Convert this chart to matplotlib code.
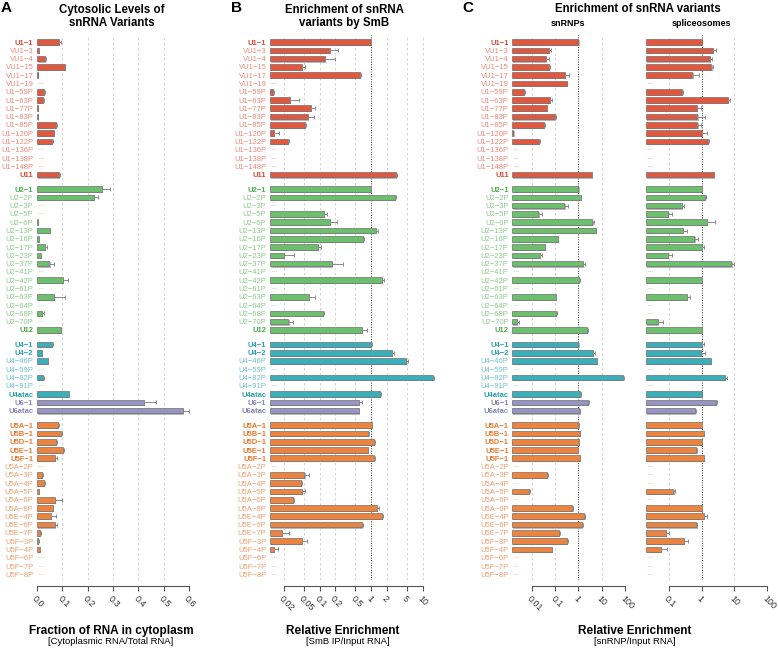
import numpy as np
import matplotlib
matplotlib.use('Agg')
import matplotlib.pyplot as plt
import matplotlib.patheffects as pe

plt.rcParams['font.family'] = ['Liberation Sans', 'DejaVu Sans']

# row labels, one list per snRNA group
names_u1 = ['U1-1', 'VU1-3', 'VU1-4', 'VU1-15', 'VU1-17', 'VU1-19', 'U1-59P', 'U1-63P', 'U1-77P',
            'U1-83P', 'U1-85P', 'U1-120P', 'U1-122P', 'U1-136P', 'U1-138P', 'U1-148P', 'U11']
names_u2 = ['U2-1', 'U2-2P', 'U2-3P', 'U2-5P', 'U2-6P', 'U2-13P', 'U2-16P', 'U2-17P', 'U2-23P',
            'U2-37P', 'U2-41P', 'U2-42P', 'U2-61P', 'U2-63P', 'U2-64P', 'U2-68P', 'U2-70P', 'U12']
names_u4 = ['U4-1', 'U4-2', 'U4-46P', 'U4-59P', 'U4-82P', 'U4-91P', 'U4atac', 'U6-1', 'U6atac']
names_u5 = ['U5A-1', 'U5B-1', 'U5D-1', 'U5E-1', 'U5F-1', 'U5A-2P', 'U5A-3P', 'U5A-4P', 'U5A-5P',
            'U5A-6P', 'U5A-8P', 'U5E-4P', 'U5E-6P', 'U5E-7P', 'U5F-3P', 'U5F-4P', 'U5F-6P',
            'U5F-7P', 'U5F-8P']
main_names = ['U1-1', 'U11', 'U2-1', 'U12', 'U4-1', 'U4-2', 'U4atac', 'U6-1', 'U6atac',
              'U5A-1', 'U5B-1', 'U5D-1', 'U5E-1', 'U5F-1']

# A: fraction in cytoplasm (mean, sd); None = not detected
cyto_u1 = [0.088, 0.007, 0.032, 0.109, 0.003, None, 0.029, 0.025, 0.002, 0.004, 0.074, 0.066, 0.060, None, None, None, 0.088]
cyto_u1_sd = [0.005, 0.001, 0.002, 0.003, 0, 0, 0.004, 0.002, 0, 0, 0.005, 0.003, 0.002, 0, 0, 0, 0.003]
cyto_u2 = [0.258, 0.224, None, None, 0.003, 0.050, 0.007, 0.033, 0.014, 0.049, None, 0.103, None, 0.068, None, 0.021, None, 0.093]
cyto_u2_sd = [0.030, 0.018, 0, 0, 0, 0.002, 0.001, 0.006, 0.002, 0.018, 0, 0.020, 0, 0.041, 0, 0.006, 0, 0.003]
cyto_u4 = [0.058, 0.018, 0.042, None, 0.025, None, 0.125, 0.422, 0.577]
cyto_u4_sd = [0.005, 0.002, 0.002, 0, 0.001, 0, 0.002, 0.048, 0.022]
cyto_u5 = [0.082, 0.093, 0.074, 0.104, 0.071, None, 0.018, 0.029, 0.008, 0.072, 0.062, 0.054, 0.071, 0.013, 0.005, 0.011, None, None, None]
cyto_u5_sd = [0.004, 0.004, 0.004, 0.004, 0.006, 0, 0.004, 0.004, 0.001, 0.025, 0.002, 0.021, 0.006, 0.001, 0.001, 0.001, 0, 0, 0]

# B: SmB IP / input
smb_u1 = [1.0, 0.162, 0.128, 0.045, 0.60, None, 0.0124, 0.027, 0.067, 0.059, 0.052, 0.0133, 0.0244, None, None, None, 3.0]
smb_u1_sd = [0.02, 0.063, 0.072, 0.007, 0.046, 0, 0.0008, 0.013, 0.015, 0.018, 0.003, 0.0027, 0.001, 0, 0, 0, 0.23]
smb_u2 = [1.0, 2.9, None, 0.12, 0.158, 1.23, 0.69, 0.092, 0.020, 0.175, None, 1.66, None, 0.062, None, 0.115, 0.025, 0.68]
smb_u2_sd = [0.02, 0.1, 0, 0.021, 0.058, 0.11, 0.04, 0.017, 0.012, 0.105, 0, 0.15, 0, 0.018, 0, 0.009, 0.005, 0.14]
smb_u4 = [1.0, 2.56, 4.7, None, 15.8, None, 1.47, 0.58, 0.58]
smb_u4_sd = [0.04, 0.2, 0.6, 0, 0.8, 0, 0.1, 0.074, 0.01]
smb_u5 = [1.03, 0.89, 1.13, 0.86, 1.16, None, 0.051, 0.043, 0.046, 0.030, 1.33, 1.66, 0.67, 0.0187, 0.046, 0.0133, None, None, None]
smb_u5_sd = [0.03, 0.04, 0.06, 0.02, 0.02, 0, 0.012, 0.003, 0.006, 0.002, 0.12, 0.05, 0.03, 0.0073, 0.0115, 0.002, 0, 0, 0]

# C: snRNP / input
snrnp_u1 = [1.0, 0.053, 0.039, 0.056, 0.27, 0.32, 0.0047, 0.058, 0.044, 0.10, 0.034, 0.0016, 0.020, None, None, None, 3.8]
snrnp_u1_sd = [0, 0.014, 0.017, 0.006, 0.12, 0, 0.0003, 0.017, 0.002, 0.003, 0.001, 0, 0.003, 0, 0, 0, 0.2]
snrnp_u2 = [1.0, 1.3, 0.25, 0.019, 4.0, 5.6, 0.133, 0.037, 0.022, 1.55, None, 1.07, None, 0.11, None, 0.11, 0.0023, 2.3]
snrnp_u2_sd = [0, 0.03, 0.12, 0.0074, 0.72, 0, 0.005, 0.001, 0.0057, 0.4, 0, 0.1, 0, 0.003, 0, 0.015, 0.0005, 0.25]
snrnp_u4 = [1.0, 4.3, 6.2, None, 81, None, 1.22, 2.45, 1.1]
snrnp_u4_sd = [0, 0.6, 0.3, 0, 10, 0, 0.05, 0.25, 0.05]
snrnp_u5 = [1.0, 1.17, 1.03, 0.97, 1.13, None, 0.045, None, 0.0073, None, 0.55, 1.8, 1.4, 0.143, 0.33, 0.071, None, None, None]
snrnp_u5_sd = [0.02, 0.03, 0.02, 0.02, 0.03, 0, 0.003, 0, 0.001, 0, 0.02, 0.05, 0.15, 0.015, 0.02, 0.003, 0, 0, 0]

# C: spliceosome / input
splice_u1 = [1.0, 2.25, 1.75, 2.0, 0.53, None, 0.26, 6.3, 0.74, 0.75, 0.75, 1.05, 1.55, None, None, None, 2.36]
splice_u1_sd = [0, 0.52, 0.35, 0.2, 0.33, 0, 0.005, 1.1, 0.21, 0.55, 0.2, 0.37, 0.1, 0, 0, 0, 0.1]
splice_u2 = [1.0, 1.29, 0.26, 0.093, 1.42, 0.28, 0.61, 1.0, 0.098, 8.1, None, 1.0, None, 0.37, None, None, 0.047, 1.0]
splice_u2_sd = [0.05, 0.1, 0.04, 0.03, 1.16, 0.07, 0.17, 0.18, 0.03, 1.5, 0, 0.02, 0, 0.08, 0, 0, 0.021, 0.02]
splice_u4 = [1.0, 0.96, 1.95, None, 5.1, None, 1.0, 2.7, 0.64]
splice_u4_sd = [0.18, 0.3, 0.05, 0, 0.9, 0, 0, 0.2, 0.05]
splice_u5 = [1.0, 1.15, 1.05, 0.70, 1.17, None, None, None, 0.14, None, 1.05, 1.17, 0.70, 0.081, 0.30, 0.059, None, None, None]
splice_u5_sd = [0.02, 0.02, 0.02, 0.02, 0.02, 0, 0, 0, 0.02, 0, 0.02, 0.25, 0.05, 0.02, 0.08, 0.03, 0, 0, 0]

# colours: (bar, main label, variant label)
group_colors = [('#E15841', '#E04A35', '#EE8877'),
                ('#6CBF6C', '#4DAE4D', '#8ACC8A'),
                ('#3AAFBA', '#27A3B0', '#6CC3CB'),
                ('#EC8441', '#EA7A30', '#F0A070')]
u6_colors = ('#9793C3', '#8985B8', '#8985B8')

groups = [names_u1, names_u2, names_u4, names_u5]
gap = 1.75

# row positions, labels and colours
names, ypos, bar_cols, lab_cols = [], [], [], []
y = 0.0
for gi, grp in enumerate(groups):
    for n in grp:
        cols = u6_colors if n.startswith('U6') else group_colors[gi]
        names.append(n)
        ypos.append(y)
        bar_cols.append(cols[0])
        lab_cols.append(cols[1] if n in main_names else cols[2])
        y += 1
    y += gap - 1
ypos = np.array(ypos)
y_top = ypos[-1]


def flat(*lists):
    out = []
    for l in lists:
        out += l
    return out


W, H = 778, 649
fig = plt.figure(figsize=(W / 100, H / 100), dpi=100)


def make_axes(x0, x1):
    return fig.add_axes([x0 / W, (H - 580) / H, (x1 - x0) / W, (580 - 35) / H])


def draw_panel(ax, vals, sds, xlim, ticks, ticklabels, log=False, show_labels=True):
    if log:
        ax.set_xscale('log')
    ax.set_xlim(*xlim)
    ax.set_ylim(y_top + 0.69, -0.85)
    base = xlim[0]

    # grid
    for t in ticks:
        if log and t == 1:
            ax.axvline(t, color='#333333', ls=(0, (1, 1.5)), lw=0.7, zorder=0)
        elif t != 0:
            ax.axvline(t, color='#cccccc', ls=(0, (3, 3)), lw=0.6, zorder=0)

    shadow = [pe.SimplePatchShadow(offset=(0.8, -0.8), shadow_rgbFace='#b0b0b0', alpha=0.9), pe.Normal()]
    for v, sd, yy, c, lc in zip(vals, sds, ypos, bar_cols, lab_cols):
        if v is None:
            ax.text(base, yy, ' ---', fontsize=4, color=lc, ha='left', va='center')
            continue
        ax.barh(yy, v - base, left=base, height=0.68, color=c, edgecolor='#666666',
                linewidth=0.45, path_effects=shadow, zorder=2)
        if sd > 0:
            ax.errorbar(v, yy, xerr=[[0], [sd]], fmt='none', ecolor='#8a8a8a',
                        elinewidth=0.7, capsize=1.1, capthick=0.7, zorder=3, clip_on=False)

    ax.set_yticks(ypos)
    if show_labels:
        ax.set_yticklabels([n.replace('-', '\u2212') for n in names], fontsize=5.5)
        for lbl, lc, n in zip(ax.get_yticklabels(), lab_cols, names):
            lbl.set_color(lc)
            if n in main_names:
                lbl.set_fontweight('bold')
    else:
        ax.set_yticklabels([])
    ax.tick_params(axis='y', length=0, pad=2.6)

    for s in ['top', 'right', 'left']:
        ax.spines[s].set_visible(False)
    ax.spines['bottom'].set_position(('outward', 4.3))
    ax.spines['bottom'].set_bounds(ticks[0], ticks[-1])
    ax.spines['bottom'].set_color('#555555')
    ax.spines['bottom'].set_linewidth(0.8)
    ax.set_xticks(ticks)
    ax.minorticks_off()
    ax.set_xticklabels(ticklabels, rotation=-45, ha='left', va='top',
                       rotation_mode='anchor', fontsize=6.5, color='#333333')
    ax.tick_params(axis='x', length=3.6, width=0.8, color='#555555', pad=2.5)
    ax.patch.set_visible(False)


# A
ax_a = make_axes(37, 189)
draw_panel(ax_a, flat(cyto_u1, cyto_u2, cyto_u4, cyto_u5),
           flat(cyto_u1_sd, cyto_u2_sd, cyto_u4_sd, cyto_u5_sd),
           (0, 0.6), [0, 0.1, 0.2, 0.3, 0.4, 0.5, 0.6],
           ['0.0', '0.1', '0.2', '0.3', '0.4', '0.5', '0.6'])

# B
ax_b = make_axes(270, 440)
draw_panel(ax_b, flat(smb_u1, smb_u2, smb_u4, smb_u5),
           flat(smb_u1_sd, smb_u2_sd, smb_u4_sd, smb_u5_sd),
           (10 ** ((270 - 371) / 51.5), 10 ** ((440 - 371) / 51.5)),
           [0.02, 0.05, 0.1, 0.2, 0.5, 1, 2, 5, 10],
           ['0.02', '0.05', '0.1', '0.2', '0.5', '1', '2', '5', '10'], log=True)

# C snRNPs
ax_c1 = make_axes(512.3, 625)
draw_panel(ax_c1, flat(snrnp_u1, snrnp_u2, snrnp_u4, snrnp_u5),
           flat(snrnp_u1_sd, snrnp_u2_sd, snrnp_u4_sd, snrnp_u5_sd),
           (10 ** ((512.3 - 578.3) / 23.2), 100),
           [0.01, 0.1, 1, 10, 100], ['0.01', '0.1', '1', '10', '100'], log=True)

# C spliceosomes
ax_c2 = make_axes(645.7, 767.3)
draw_panel(ax_c2, flat(splice_u1, splice_u2, splice_u4, splice_u5),
           flat(splice_u1_sd, splice_u2_sd, splice_u4_sd, splice_u5_sd),
           (10 ** ((645.7 - 701.7) / 33), 100),
           [0.1, 1, 10, 100], ['0.1', '1', '10', '100'], log=True, show_labels=False)


def ftext(x, y, s, **kw):
    kw.setdefault('ha', 'center')
    kw.setdefault('va', 'center')
    fig.text(x / W, 1 - y / H, s, **kw)


# panel letters and titles
ftext(1, 8, 'A', fontsize=11, fontweight='bold', ha='left')
ftext(231, 8, 'B', fontsize=11, fontweight='bold', ha='left')
ftext(462, 8, 'C', fontsize=11, fontweight='bold', ha='left')

ftext(112, 10, 'Cytosolic Levels of', fontsize=8.3, fontweight='bold')
ftext(112, 23, 'snRNA Variants', fontsize=8.3, fontweight='bold')
ftext(344, 10, 'Enrichment of snRNA', fontsize=8.3, fontweight='bold')
ftext(344, 23, 'variants by SmB', fontsize=8.3, fontweight='bold')
ftext(638, 9, 'Enrichment of snRNA variants', fontsize=8.3, fontweight='bold')
ftext(568, 23, 'snRNPs', fontsize=6.5, fontweight='bold')
ftext(701, 23, 'spliceosomes', fontsize=6.5, fontweight='bold')

# axis titles
ftext(111, 631, 'Fraction of RNA in cytoplasm', fontsize=8.5, fontweight='bold')
ftext(111, 642, '[Cytoplasmic RNA/Total RNA]', fontsize=6.8)
ftext(343, 631, 'Relative Enrichment', fontsize=8.5, fontweight='bold')
ftext(348, 642, '[SmB IP/Input RNA]', fontsize=6.8)
ftext(635, 631, 'Relative Enrichment', fontsize=8.5, fontweight='bold')
ftext(635, 642, '[snRNP/Input RNA]', fontsize=6.8)

plt.savefig('out.png', dpi=100)
